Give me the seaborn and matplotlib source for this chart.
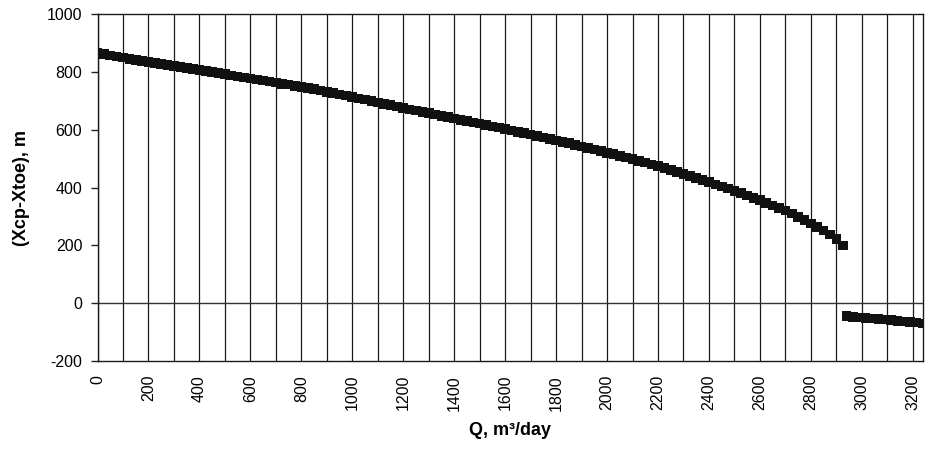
import numpy as np
import pandas as pd
import matplotlib
matplotlib.use("Agg")
import matplotlib.pyplot as plt
import seaborn as sns

# Upper branch: Q from 0 to 2925 in steps of 25 m3/day
q_upper = list(range(0, 2926, 25))
x_upper = [
    865, 861, 857, 853, 849, 845, 841, 838, 834, 830, 827, 823,
    820, 816, 813, 809, 806, 802, 799, 795, 792, 788, 784, 781,
    777, 774, 770, 767, 763, 759, 756, 752, 748, 744, 740, 735,
    731, 727, 722, 718, 713, 708, 704, 699, 694, 689, 685, 680,
    675, 670, 666, 661, 657, 652, 648, 643, 639, 634, 630, 625,
    621, 616, 611, 607, 602, 597, 592, 588, 583, 578, 573, 568,
    563, 558, 553, 547, 542, 537, 531, 526, 520, 515, 509, 504,
    498, 492, 486, 480, 474, 467, 461, 454, 447, 440, 433, 425,
    418, 411, 403, 396, 388, 380, 372, 364, 356, 347, 338, 329,
    320, 310, 299, 288, 276, 264, 251, 237, 222, 200,
]

# Lower branch after the jump
q_lower = [2940, 2965, 2990, 3015, 3040, 3065, 3090, 3115, 3140, 3165, 3190, 3215, 3240]
x_lower = [-45, -47, -49, -51, -53, -55, -57, -59, -61, -63, -65, -67, -70]

df = pd.DataFrame({
    "Q": q_upper + q_lower,
    "dX": x_upper + x_lower,
})

sns.set_style("white")
plt.rcParams["font.family"] = ["Liberation Sans", "DejaVu Sans"]
plt.rcParams["axes.unicode_minus"] = False
plt.rcParams["text.color"] = "black"
plt.rcParams["axes.labelcolor"] = "black"
plt.rcParams["xtick.color"] = "black"
plt.rcParams["ytick.color"] = "black"

fig = plt.figure(figsize=(9.29, 4.55), dpi=100)
ax = fig.add_axes([0.105, 0.2066, 0.8885, 0.7626])

# vertical gridlines every 100
ax.set_xticks(range(0, 3201, 100), minor=True)
ax.set_xticks(range(0, 3201, 200))
ax.grid(which="both", axis="x", color="#1a1a1a", linewidth=0.9)
ax.axhline(0, color="#333333", linewidth=1.0, zorder=1)

sns.scatterplot(data=df, x="Q", y="dX", marker="s", s=48, color="#111111",
                edgecolor="none", linewidth=0, ax=ax, zorder=3, legend=False)

ax.set_xlim(0, 3240)
ax.set_ylim(-200, 1000)
ax.set_yticks(range(-200, 1001, 200))

ax.tick_params(axis="x", which="both", length=0, pad=10, labelsize=11.5,
               labelrotation=90)
ax.tick_params(axis="y", length=5, width=1, pad=6, labelsize=11.5,
               direction="out", left=True, color="#222222")

for s in ax.spines.values():
    s.set_color("#1a1a1a")
    s.set_linewidth(1.0)

ax.set_xlabel("Q, m³/day", fontsize=13, fontweight="bold", labelpad=8)
ax.set_ylabel("(Xcp-Xtoe), m", fontsize=13, fontweight="bold", labelpad=12)

fig.savefig("out.png", dpi=100)
